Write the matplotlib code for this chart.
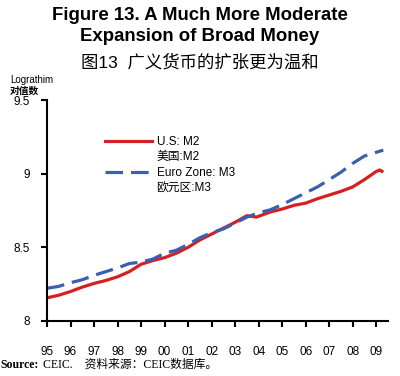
import matplotlib
matplotlib.use("Agg")
import matplotlib.pyplot as plt
from matplotlib.lines import Line2D

plt.rcParams['font.family'] = ['Liberation Sans', 'Noto Sans CJK SC']

# US M2 (log)
us_x = [1995.0, 1995.5, 1996.0, 1996.5, 1997.0, 1997.5, 1998.0, 1998.5, 1999.0, 1999.5,
        2000.0, 2000.5, 2001.0, 2001.5, 2002.0, 2002.5, 2003.0, 2003.5, 2003.9, 2004.5,
        2005.0, 2005.5, 2006.0, 2006.5, 2007.0, 2007.5, 2008.0, 2008.5, 2009.0, 2009.15, 2009.3]
us_m2 = [8.157, 8.175, 8.20, 8.23, 8.255, 8.275, 8.30, 8.335, 8.385, 8.41,
         8.43, 8.46, 8.50, 8.55, 8.59, 8.63, 8.67, 8.715, 8.705, 8.74,
         8.76, 8.785, 8.80, 8.83, 8.855, 8.88, 8.91, 8.96, 9.015, 9.025, 9.01]

# Euro zone M3 (log)
eu_x = [1995.0, 1995.5, 1996.0, 1996.5, 1997.0, 1997.5, 1998.0, 1998.5, 1999.0, 1999.5,
        2000.0, 2000.5, 2001.0, 2001.5, 2002.0, 2002.5, 2003.0, 2003.5, 2004.0, 2004.5,
        2005.0, 2005.5, 2006.0, 2006.5, 2007.0, 2007.5, 2008.0, 2008.5, 2009.0, 2009.3]
eu_m3 = [8.222, 8.235, 8.26, 8.28, 8.31, 8.335, 8.36, 8.39, 8.40, 8.42,
         8.46, 8.48, 8.52, 8.565, 8.60, 8.625, 8.665, 8.705, 8.735, 8.755,
         8.79, 8.83, 8.87, 8.91, 8.96, 9.01, 9.07, 9.12, 9.145, 9.16]

year_ticks = list(range(1995, 2010))
year_labels = ['95', '96', '97', '98', '99', '00', '01', '02', '03', '04', '05', '06', '07', '08', '09']
y_ticks = [8, 8.5, 9, 9.5]
y_labels = ['8', '8.5', '9', '9.5']

fig = plt.figure(figsize=(4, 3.76), dpi=100)
ax = fig.add_axes([0.1175, 0.1463, 0.8525, 0.5877])

ax.plot(us_x, us_m2, color='#d42020', lw=2.3, solid_capstyle='butt')
ax.plot(eu_x, eu_m3, color='#3a5fb0', lw=2.3, linestyle=(0, (5.5, 2.5)))

ax.set_xlim(1995, 2009.5)
ax.set_ylim(8, 9.5)
ax.set_xticks(year_ticks)
ax.set_xticklabels(year_labels)
ax.set_yticks(y_ticks)
ax.set_yticklabels(y_labels)
ax.tick_params(axis='x', direction='out', length=4, width=1.5, pad=14, labelsize=8.5)
ax.tick_params(axis='y', direction='out', length=4, width=1.5, pad=8, labelsize=8.5)
for s in ['top', 'right']:
    ax.spines[s].set_visible(False)
for s in ['left', 'bottom']:
    ax.spines[s].set_linewidth(1.5)

blank = Line2D([], [], color='none')
handles = [Line2D([], [], color='#d42020', lw=2.3), blank,
           Line2D([], [], color='#3a5fb0', lw=2.3, linestyle=(0, (5.5, 2.5))), blank]
labels = ['U.S: M2', '美国:M2', 'Euro Zone: M3', '欧元区:M3']
ax.legend(handles, labels, loc='upper left', bbox_to_anchor=(0.155, 0.86), frameon=False,
          fontsize=8.5, handlelength=4.0, labelspacing=0.3, handletextpad=0.4,
          borderaxespad=0)

fig.text(0.5, 0.96, 'Figure 13. A Much More Moderate', ha='center', va='center',
         fontsize=13.4, fontweight='bold')
fig.text(0.5, 0.902, 'Expansion of Broad Money', ha='center', va='center',
         fontsize=13.4, fontweight='bold')
fig.text(0.5, 0.835, '图13  广义货币的扩张更为温和', ha='center', va='center', fontsize=12.5)
fig.text(0.025, 0.787, 'Lograthim', ha='left', va='center', fontsize=7)
fig.text(0.025, 0.758, '对值数', ha='left', va='center', fontsize=7, fontweight='bold')

fig.text(0.0, 0.029, 'Source:', ha='left', va='center', fontsize=8.5, fontweight='bold',
         family=['Liberation Serif', 'Noto Sans CJK SC'])
fig.text(0.107, 0.029, 'CEIC.    资料来源：CEIC数据库。', ha='left', va='center', fontsize=8.5,
         family=['Liberation Serif', 'Noto Sans CJK SC'])

fig.savefig('out.png', dpi=100)
